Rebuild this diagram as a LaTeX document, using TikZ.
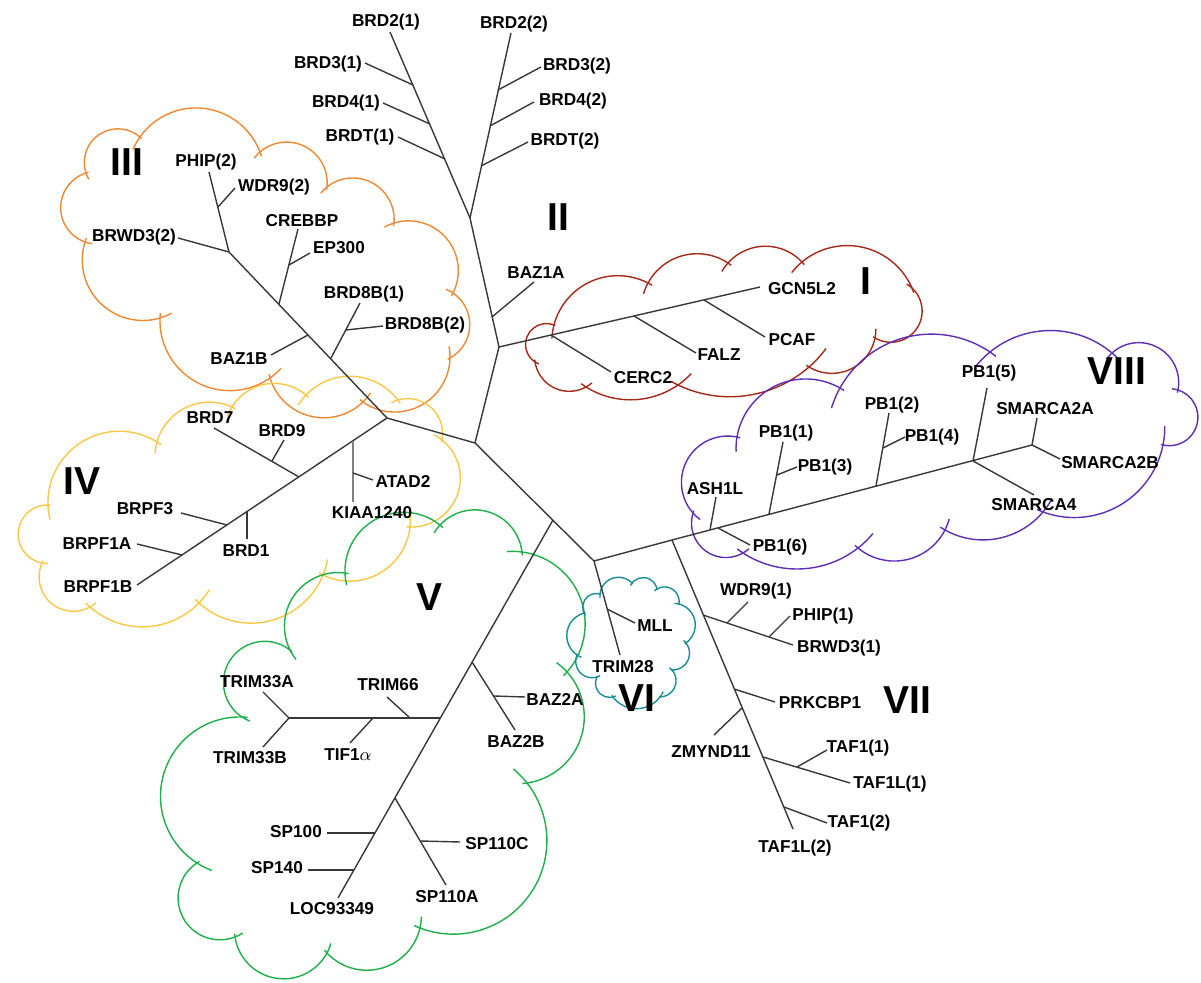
\documentclass[tikz,border=0pt]{standalone}
\usepackage{fontspec}
\setmainfont{Liberation Sans}
\definecolor{colI}{RGB}{165,40,25}
\definecolor{colIII}{RGB}{240,135,50}
\definecolor{colIV}{RGB}{250,200,70}
\definecolor{colV}{RGB}{30,175,75}
\definecolor{colVI}{RGB}{25,140,150}
\definecolor{colVIII}{RGB}{95,45,180}
\def\bextA{12}
\def\bextB{4}
\newcommand\cbump[5]{%
 \pgfmathsetmacro\bdx{#3-#1}%
 \pgfmathsetmacro\bdy{#4-#2}%
 \pgfmathsetmacro\bL{100*veclen(\bdx/100,\bdy/100)}%
 \pgfmathsetmacro\bnx{\bdy/\bL}%
 \pgfmathsetmacro\bny{-\bdx/\bL}%
 \pgfmathsetmacro\bth{4*atan(2*#5)}%
 \pgfmathsetmacro\bR{\bL/(2*sin(\bth/2))}%
 \pgfmathsetmacro\bs{#5*\bL}%
 \pgfmathsetmacro\bcx{(#1+#3)/2+\bnx*(\bs-\bR)}%
 \pgfmathsetmacro\bcy{(#2+#4)/2+\bny*(\bs-\bR)}%
 \pgfmathsetmacro\ba{atan2(#2-\bcy,#1-\bcx)}%
 \pgfmathsetmacro\bsa{\ba-\bextA}%
 \pgfmathsetmacro\bea{\ba+\bth+\bextB}%
 \draw[cloudline] ({\bcx+\bR*cos(\bsa)},{\bcy+\bR*sin(\bsa)}) arc[start angle=\bsa,end angle=\bea,radius=\bR];%
}
\tikzset{
 br/.style={draw=black!78, line width=0.7pt},
 lab/.style={font=\bfseries\fontsize{8.6}{10}\selectfont, inner sep=0pt},
 grp/.style={font=\bfseries\fontsize{19.5}{22}\selectfont, inner sep=0pt},
}
\begin{document}
\begin{tikzpicture}[x=0.5pt,y=-0.5pt]
\useasboundingbox (0,0) rectangle (1201,983);
% ---------- clouds ----------
\begin{scope}[cloudline/.style={draw=colI,line width=0.7pt}]
\cbump{554}{325}{648}{283}{0.24}
\cbump{648}{283}{728}{263}{0.22}
\cbump{728}{263}{802}{262}{0.22}
\cbump{802}{262}{912}{288}{0.25}
\cbump{912}{288}{875}{338}{0.45}
\cbump{875}{338}{809}{367}{0.26}
\cbump{809}{367}{678}{385}{0.15}
\cbump{678}{385}{586}{387}{0.15}
\cbump{586}{387}{535}{362}{0.26}
\cbump{535}{362}{554}{325}{0.45}
\end{scope}
\begin{scope}[cloudline/.style={draw=colIII,line width=0.7pt}]
\cbump{86}{173}{140}{137}{0.38}
\cbump{140}{137}{260}{152}{0.3}
\cbump{260}{152}{327}{187}{0.34}
\cbump{327}{187}{394}{223}{0.33}
\cbump{394}{223}{453}{293}{0.33}
\cbump{453}{293}{450}{358}{0.28}
\cbump{450}{358}{363}{402}{0.3}
\cbump{363}{402}{270}{378}{0.28}
\cbump{270}{378}{160}{318}{0.31}
\cbump{160}{318}{85}{242}{0.3}
\cbump{85}{242}{86}{173}{0.36}
\end{scope}
\begin{scope}[cloudline/.style={draw=colIV,line width=0.7pt}]
\cbump{48}{505}{157}{442}{0.3}
\cbump{157}{442}{232}{407}{0.23}
\cbump{232}{407}{306}{395}{0.23}
\cbump{306}{395}{398}{400}{0.23}
\cbump{398}{400}{442}{440}{0.28}
\cbump{442}{440}{410}{527}{0.36}
\cbump{410}{527}{323}{575}{0.26}
\cbump{323}{575}{199}{603}{0.26}
\cbump{199}{603}{90}{607}{0.2}
\cbump{90}{607}{42}{563}{0.36}
\cbump{42}{563}{48}{505}{0.46}
\end{scope}
\begin{scope}[cloudline/.style={draw=colV,line width=0.7pt}]
\cbump{242}{717}{290}{650}{0.52}
\cbump{290}{650}{345}{573}{0.3}
\cbump{345}{573}{440}{525}{0.32}
\cbump{440}{525}{522}{552}{0.32}
\cbump{522}{552}{567}{672}{0.3}
\cbump{567}{672}{527}{783}{0.3}
\cbump{527}{783}{420}{928}{0.38}
\cbump{420}{928}{327}{953}{0.3}
\cbump{327}{953}{235}{937}{0.36}
\cbump{235}{937}{197}{863}{0.45}
\cbump{197}{863}{242}{717}{0.38}
\end{scope}
\begin{scope}[cloudline/.style={draw=colVI,line width=0.7pt}]
\cbump{600}{594}{632}{583}{0.32}
\cbump{632}{583}{657}{589}{0.32}
\cbump{657}{589}{679}{604}{0.32}
\cbump{679}{604}{686}{643}{0.32}
\cbump{686}{643}{672}{670}{0.32}
\cbump{672}{670}{660}{697}{0.32}
\cbump{660}{697}{613}{697}{0.25}
\cbump{613}{697}{597}{677}{0.32}
\cbump{597}{677}{577}{655}{0.32}
\cbump{577}{655}{584}{613}{0.32}
\cbump{584}{613}{600}{594}{0.32}
\end{scope}
\begin{scope}[cloudline/.style={draw=colVIII,line width=0.7pt}]
\cbump{737}{437}{840}{388}{0.26}
\cbump{840}{388}{990}{352}{0.22}
\cbump{990}{352}{1112}{353}{0.18}
\cbump{1112}{353}{1178}{390}{0.36}
\cbump{1178}{390}{1163}{445}{0.48}
\cbump{1163}{445}{1043}{512}{0.23}
\cbump{1043}{512}{945}{530}{0.18}
\cbump{945}{530}{858}{548}{0.24}
\cbump{858}{548}{743}{553}{0.16}
\cbump{743}{553}{693}{513}{0.34}
\cbump{693}{513}{737}{437}{0.36}
\end{scope}
% ---------- coordinates ----------
\coordinate (C) at (475,443);
\coordinate (J1) at (499,347);
\coordinate (J2) at (470,218);
\coordinate (K) at (387,418);
\coordinate (J3) at (594,561);
\coordinate (jV) at (553,520);
\coordinate (jVII) at (672,540);
% II
\coordinate (tBRD21) at (390,32);
\coordinate (jBRD31) at (413,85);  \coordinate (eBRD31) at (365,63);
\coordinate (jBRD41) at (430,124); \coordinate (eBRD41) at (383,103);
\coordinate (jBRDT1) at (445,159); \coordinate (eBRDT1) at (398,137);
\coordinate (tBRD22) at (511,33);
\coordinate (jBRD32) at (498,90);  \coordinate (eBRD32) at (541,67);
\coordinate (jBRD42) at (490,126); \coordinate (eBRD42) at (534,102);
\coordinate (jBRDT2) at (481,166); \coordinate (eBRDT2) at (528,142);
\coordinate (jBAZ1A) at (492,317); \coordinate (eBAZ1A) at (534,282);
% I
\coordinate (eGCN) at (760,287);
\coordinate (jCERC) at (551,335); \coordinate (eCERC) at (611,372);
\coordinate (jFALZ) at (634,316); \coordinate (eFALZ) at (696,353);
\coordinate (jPCAF) at (704,300); \coordinate (ePCAF) at (765,337);
% III
\coordinate (jB3) at (229,252);
\coordinate (jCREB) at (279,304);
\coordinate (jBAZ1B) at (308,335);
\coordinate (jB8) at (331,358);
\coordinate (tPHIP2) at (209,172);
\coordinate (jWDR92) at (218,207); \coordinate (eWDR92) at (235,188);
\coordinate (eBRWD32) at (178,238);
\coordinate (tCREB) at (298,229);
\coordinate (jEP) at (289,265); \coordinate (eEP) at (310,253);
\coordinate (tB8B1) at (360,303);
\coordinate (jB8B2) at (346,330); \coordinate (eB8B2) at (383,326);
\coordinate (eBAZ1B) at (271,355);
% IV
\coordinate (eBRPF1B) at (137,585);
\coordinate (jKIAA) at (353,441); \coordinate (eKIAA) at (353,502);
\coordinate (jATAD) at (353,473); \coordinate (eATAD) at (373,480);
\coordinate (jB7) at (299,477); \coordinate (eB7) at (214,428);
\coordinate (jB9) at (272,461); \coordinate (eB9) at (284,440);
\coordinate (jB1) at (247,512); \coordinate (eB1) at (247,539);
\coordinate (jBP3) at (227,525); \coordinate (eBP3) at (181,513);
\coordinate (jBP1A) at (182,555); \coordinate (eBP1A) at (137,544);
% V
\coordinate (eLOC) at (338,898);
\coordinate (jBAZ2) at (472,662); \coordinate (eBAZ2B) at (515,730);
\coordinate (jBAZ2A) at (494,696); \coordinate (eBAZ2A) at (525,697);
\coordinate (jTRIM) at (440,718); \coordinate (jT33) at (289,718);
\coordinate (eT33A) at (263,692); \coordinate (eT33B) at (263,747);
\coordinate (jT66) at (410,718); \coordinate (eT66) at (387,697);
\coordinate (jTIF) at (373,718); \coordinate (eTIF) at (350,743);
\coordinate (jSP110) at (395,798); \coordinate (eSP110A) at (446,885);
\coordinate (jSP110C) at (420,841); \coordinate (eSP110C) at (460,842);
\coordinate (jSP100) at (375,833); \coordinate (eSP100) at (327,833);
\coordinate (jSP140) at (354,870); \coordinate (eSP140) at (308,870);
% VI
\coordinate (eTRIM28) at (620,655);
\coordinate (jMLL) at (607,609); \coordinate (eMLL) at (635,623);
% VII
\coordinate (eTAF1L2) at (793,829);
\coordinate (jWDR91) at (703,615); \coordinate (eBRWD31) at (793,645);
\coordinate (jW91) at (727,623); \coordinate (eW91) at (748,602);
\coordinate (jPHIP1) at (769,637); \coordinate (ePHIP1) at (790,616);
\coordinate (jPRK) at (734,689); \coordinate (ePRK) at (775,702);
\coordinate (jZMY) at (742,708); \coordinate (eZMY) at (714,735);
\coordinate (jTAF) at (763,757); \coordinate (eTAF1L1) at (850,783);
\coordinate (jTAF11) at (797,767); \coordinate (eTAF11) at (827,750);
\coordinate (jTAF12) at (784,807); \coordinate (eTAF12) at (827,823);
% VIII
\coordinate (jSM2) at (1032,445);
\coordinate (jASH) at (710,530); \coordinate (eASH) at (716,497);
\coordinate (jPB6) at (718,528); \coordinate (ePB6) at (750,545);
\coordinate (jPB1) at (769,514); \coordinate (ePB1) at (783,442);
\coordinate (jPB3) at (777,475); \coordinate (ePB3) at (797,467);
\coordinate (jPB2) at (876,486); \coordinate (ePB2) at (889,413);
\coordinate (jPB4) at (883,448); \coordinate (ePB4) at (905,437);
\coordinate (jPB5) at (973,461); \coordinate (ePB5) at (987,388);
\coordinate (eSM4) at (1034,495);
\coordinate (eSM2A) at (1037,418);
\coordinate (eSM2B) at (1060,459);
% ---------- tree ----------
\draw[br] (K) -- (C) -- (J1) -- (J2);
\draw[br] (C) -- (J3);
% II
\draw[br] (J2) -- (tBRD21);
\draw[br] (J2) -- (tBRD22);
\draw[br] (jBRD31) -- (eBRD31);
\draw[br] (jBRD41) -- (eBRD41);
\draw[br] (jBRDT1) -- (eBRDT1);
\draw[br] (jBRD32) -- (eBRD32);
\draw[br] (jBRD42) -- (eBRD42);
\draw[br] (jBRDT2) -- (eBRDT2);
\draw[br] (jBAZ1A) -- (eBAZ1A);
% I
\draw[br] (J1) -- (eGCN);
\draw[br] (jCERC) -- (eCERC);
\draw[br] (jFALZ) -- (eFALZ);
\draw[br] (jPCAF) -- (ePCAF);
% III
\draw[br] (K) -- (jB3);
\draw[br] (jB3) -- (tPHIP2);
\draw[br] (jWDR92) -- (eWDR92);
\draw[br] (jB3) -- (eBRWD32);
\draw[br] (jCREB) -- (tCREB);
\draw[br] (jEP) -- (eEP);
\draw[br] (jB8) -- (tB8B1);
\draw[br] (jB8B2) -- (eB8B2);
\draw[br] (jBAZ1B) -- (eBAZ1B);
% IV
\draw[br] (K) -- (eBRPF1B);
\draw[br, draw=black!50, line width=0.9pt] (jKIAA) -- (eKIAA);
\draw[br] (jATAD) -- (eATAD);
\draw[br] (jB7) -- (eB7);
\draw[br] (jB9) -- (eB9);
\draw[br] (jB1) -- (eB1);
\draw[br] (jBP3) -- (eBP3);
\draw[br] (jBP1A) -- (eBP1A);
% V
\draw[br] (jV) -- (eLOC);
\draw[br] (jBAZ2) -- (eBAZ2B);
\draw[br] (jBAZ2A) -- (eBAZ2A);
\draw[br] (jTRIM) -- (jT33);
\draw[br] (jT33) -- (eT33A);
\draw[br] (jT33) -- (eT33B);
\draw[br] (jT66) -- (eT66);
\draw[br] (jTIF) -- (eTIF);
\draw[br] (jSP110) -- (eSP110A);
\draw[br] (jSP110C) -- (eSP110C);
\draw[br] (jSP100) -- (eSP100);
\draw[br] (jSP140) -- (eSP140);
% VI
\draw[br] (J3) -- (eTRIM28);
\draw[br] (jMLL) -- (eMLL);
% VII / VIII spine
\draw[br] (J3) -- (jVII) -- (jSM2);
\draw[br] (jVII) -- (eTAF1L2);
\draw[br] (jWDR91) -- (eBRWD31);
\draw[br] (jW91) -- (eW91);
\draw[br] (jPHIP1) -- (ePHIP1);
\draw[br] (jPRK) -- (ePRK);
\draw[br] (jZMY) -- (eZMY);
\draw[br] (jTAF) -- (eTAF1L1);
\draw[br] (jTAF11) -- (eTAF11);
\draw[br] (jTAF12) -- (eTAF12);
% VIII
\draw[br] (jASH) -- (eASH);
\draw[br] (jPB6) -- (ePB6);
\draw[br] (jPB1) -- (ePB1);
\draw[br] (jPB3) -- (ePB3);
\draw[br] (jPB2) -- (ePB2);
\draw[br] (jPB4) -- (ePB4);
\draw[br] (jPB5) -- (ePB5);
\draw[br] (jPB5) -- (eSM4);
\draw[br] (jSM2) -- (eSM2A);
\draw[br] (jSM2) -- (eSM2B);
% ---------- labels ----------
\node[lab] (lBRD21) at (386,22) {BRD2(1)};
\node[lab] (lBRD31) at (328,64) {BRD3(1)};
\node[lab] (lBRD41) at (346,103) {BRD4(1)};
\node[lab] (lBRDT1) at (360,137) {BRDT(1)};
\node[lab] (lBRD22) at (514,24) {BRD2(2)};
\node[lab] (lBRD32) at (577,66) {BRD3(2)};
\node[lab] (lBRD42) at (573,101) {BRD4(2)};
\node[lab] (lBRDT2) at (565,141) {BRDT(2)};
\node[lab] (lBAZ1A) at (536,273) {BAZ1A};
\node[lab] (lGCN) at (802,289) {GCN5L2};
\node[lab] (lCERC) at (643,378) {CERC2};
\node[lab] (lFALZ) at (719,355) {FALZ};
\node[lab] (lPCAF) at (792,340) {PCAF};
\node[lab] (lPHIP2) at (206,162) {PHIP(2)};
\node[lab] (lWDR92) at (274,187) {WDR9(2)};
\node[lab] (lBRWD32) at (134,237) {BRWD3(2)};
\node[lab] (lCREB) at (302,221) {CREBBP};
\node[lab] (lEP) at (339,248) {EP300};
\node[lab] (lB8B1) at (364,294) {BRD8B(1)};
\node[lab] (lB8B2) at (425,325) {BRD8B(2)};
\node[lab] (lBAZ1B) at (239,359) {BAZ1B};
\node[lab] (lB7) at (210,418) {BRD7};
\node[lab] (lB9) at (282,431) {BRD9};
\node[lab] (lATAD) at (403,481) {ATAD2};
\node[lab] (lKIAA) at (372,513) {KIAA1240};
\node[lab] (lB1) at (246,551) {BRD1};
\node[lab] (lBP3) at (145,509) {BRPF3};
\node[lab] (lBP1A) at (97,544) {BRPF1A};
\node[lab] (lBP1B) at (98,587) {BRPF1B};
\node[lab] (lBAZ2A) at (555,699) {BAZ2A};
\node[lab] (lBAZ2B) at (516,741) {BAZ2B};
\node[lab] (lT33A) at (257,682) {TRIM33A};
\node[lab] (lT66) at (388,685) {TRIM66};
\node[lab] (lT33B) at (250,758) {TRIM33B};
\node[lab] (lTIF) at (348,755) {TIF1$\alpha$};
\node[lab] (lSP110C) at (497,844) {SP110C};
\node[lab] (lSP110A) at (447,897) {SP110A};
\node[lab] (lSP100) at (296,832) {SP100};
\node[lab] (lSP140) at (277,868) {SP140};
\node[lab] (lLOC) at (332,909) {LOC93349};
\node[lab] (lMLL) at (655,626) {MLL};
\node[lab] (lTRIM28) at (623,667) {TRIM28};
\node[lab] (lWDR91) at (756,591) {WDR9(1)};
\node[lab] (lPHIP1) at (823,616) {PHIP(1)};
\node[lab] (lBRWD31) at (839,648) {BRWD3(1)};
\node[lab] (lPRK) at (820,703) {PRKCBP1};
\node[lab] (lZMY) at (711,752) {ZMYND11};
\node[lab] (lTAF11) at (858,748) {TAF1(1)};
\node[lab] (lTAF1L1) at (890,784) {TAF1L(1)};
\node[lab] (lTAF12) at (859,823) {TAF1(2)};
\node[lab] (lTAF1L2) at (795,848) {TAF1L(2)};
\node[lab] (lASH) at (715,489) {ASH1L};
\node[lab] (lPB6) at (780,547) {PB1(6)};
\node[lab] (lPB1) at (786,433) {PB1(1)};
\node[lab] (lPB3) at (825,467) {PB1(3)};
\node[lab] (lPB2) at (892,405) {PB1(2)};
\node[lab] (lPB4) at (932,437) {PB1(4)};
\node[lab] (lPB5) at (989,373) {PB1(5)};
\node[lab] (lSM4) at (1034,505) {SMARCA4};
\node[lab] (lSM2A) at (1045,409) {SMARCA2A};
\node[lab] (lSM2B) at (1110,463) {SMARCA2B};
% group numerals
\node[grp] (gI) at (866,281) {I};
\node[grp] (gII) at (558,217) {II};
\node[grp] (gIII) at (127,162) {III};
\node[grp] (gIV) at (82,481) {IV};
\node[grp] (gV) at (430,597) {V};
\node[grp] (gVI) at (637,698) {VI};
\node[grp] (gVII) at (907,700) {VII};
\node[grp] (gVIII) at (1117,371) {VIII};
\end{tikzpicture}
\end{document}
